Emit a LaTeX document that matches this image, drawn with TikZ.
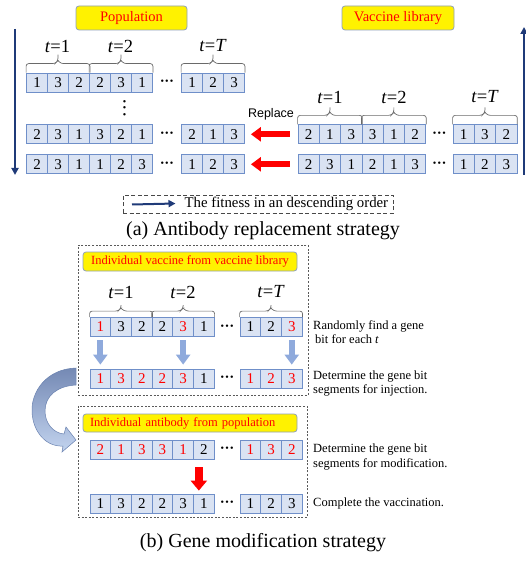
\documentclass[tikz,border=0pt]{standalone}
\usepackage{fontspec}
\setmainfont{Liberation Serif}
\newfontfamily\labelsans{Liberation Sans}
\usetikzlibrary{arrows.meta,calc}

\definecolor{cellfill}{HTML}{DAE3F3}
\definecolor{celledge}{HTML}{6F8FC9}
\definecolor{navyline}{HTML}{1F3A78}
\definecolor{hledge}{HTML}{8FA0B8}
\definecolor{lightarrow}{HTML}{8FAADC}
\definecolor{curvetop}{HTML}{7489B4}
\definecolor{curvebot}{HTML}{C3D4EF}
\definecolor{curveedge}{HTML}{6A82B0}
\definecolor{boxgray}{HTML}{5A5A5A}
\definecolor{bracegray}{HTML}{6A6A6A}

% one chromosome: six cells, a gap with dots, three more cells
% #1 name prefix, #2 left x, #3 centre y, #4 cell width, #5 start of last group, #6 digit/colour list
\newcommand{\generow}[6]{%
  \foreach \d/\c [count=\i] in {#6} {
    \pgfmathsetmacro{\cx}{#2 + ifthenelse(\i<7, (\i-0.5)*#4, #5+(\i-6.5)*#4)}
    \node[cell=#4, text=\c] (#1c\i) at (\cx,#3) {\d};
  }
  \pgfmathsetmacro{\dx}{#2 + (6*#4 + #5)/2}
  \node[gapdots] (#1dots) at (\dx,#3) {\textbullet\kern1.2pt\textbullet\kern1.2pt\textbullet};
}

% flat curly bracket over a time step: #1 left point, #2 right point,
% #3 shoulder height, #4 tip height
\newcommand{\tbracket}[4]{%
  \draw[bracketline] (#1) -- ($(#1)+(0,-#3)$) -- ($(#1)!0.5!(#2)+(-3,-#3)$)
    -- ($(#1)!0.5!(#2)+(0,-#3-3)$) -- ($(#1)!0.5!(#2)+(0,-#4)$);
  \draw[bracketline] (#2) -- ($(#2)+(0,-#3)$) -- ($(#1)!0.5!(#2)+(3,-#3)$)
    -- ($(#1)!0.5!(#2)+(0,-#3-3)$);
}

\begin{document}
\begin{tikzpicture}[x=1pt,y=-1pt,
  cell/.style={draw=celledge, fill=cellfill, line width=0.8pt,
    minimum width=#1, minimum height=19pt, inner sep=0pt,
    font=\fontsize{15}{15}\selectfont},
  cell/.default=21,
  gapdots/.style={inner sep=0pt, font=\fontsize{10}{10}\selectfont},
  bracketline/.style={draw=bracegray, line width=0.7pt, rounded corners=2.5pt},
  tlabel/.style={inner sep=0pt, font=\fontsize{18.5}{20}\selectfont},
  hlbox/.style={draw=hledge, fill=yellow, line width=0.8pt, rounded corners=3pt,
    text=red, inner sep=0pt},
  navyarrow/.style={draw=navyline, line width=2pt,
    -{Triangle[length=7pt,width=7pt]}},
  replarrow/.style={draw=red, line width=6pt,
    -{Triangle[length=10pt,width=14pt]}},
  bitarrow/.style={draw=lightarrow, line width=6pt,
    -{Triangle[length=10pt,width=14pt]}},
  modarrow/.style={draw=red, line width=8pt,
    -{Triangle[length=10pt,width=16pt]}},
  dashbox/.style={draw=boxgray, line width=0.8pt, dash pattern=on 2pt off 1.6pt,
    inner sep=0pt},
  note/.style={anchor=west, align=left, inner sep=0pt,
    font=\fontsize{12.5}{14.5}\selectfont},
  caption/.style={inner sep=0pt, font=\fontsize{20}{22}\selectfont}
]
\useasboundingbox (0,0) rectangle (526,561);

% ---------------- (a) antibody replacement ----------------
\node[hlbox, minimum width=111pt, minimum height=24pt,
  font=\fontsize{14.5}{15}\selectfont] (poplabel) at (131.5,18) {Population};
\node[hlbox, minimum width=112pt, minimum height=24pt,
  font=\fontsize{14.5}{15}\selectfont] (vaclabel) at (398,18) {Vaccine library};

% population (fitness decreasing downwards)
\generow{popA}{26.5}{82.5}{21}{155}{1/black,3/black,2/black,2/black,3/black,1/black,1/black,2/black,3/black}
\generow{popB}{26.5}{134.3}{21}{155}{2/black,3/black,1/black,3/black,2/black,1/black,2/black,1/black,3/black}
\generow{popC}{26.5}{164.3}{21}{155}{2/black,3/black,1/black,1/black,2/black,3/black,1/black,2/black,3/black}
\node[gapdots, rotate=90] (popvdots) at (125.5,108)
  {\textbullet\kern3pt\textbullet\kern3pt\textbullet};

\tbracket{popAc1.north west}{popAc3.north east}{9}{18}
\tbracket{popAc4.north west}{popAc6.north east}{9}{18}
\tbracket{popAc7.north west}{popAc9.north east}{9}{18}
\node[tlabel] (popt1) at (57.5,46) {\textit{t}=1};
\node[tlabel] (popt2) at (120.5,46) {\textit{t}=2};
\node[tlabel] (poptT) at (213,46) {\textit{t}=\textit{T}};

% vaccine library
\generow{vacA}{298}{134.3}{21.3}{155}{2/black,1/black,3/black,3/black,1/black,2/black,1/black,3/black,2/black}
\generow{vacB}{298}{164.3}{21.3}{155}{2/black,3/black,1/black,2/black,1/black,3/black,1/black,2/black,3/black}

\tbracket{vacAc1.north west}{vacAc3.north east}{9}{17}
\tbracket{vacAc4.north west}{vacAc6.north east}{9}{17}
\tbracket{vacAc7.north west}{vacAc9.north east}{9}{17}
\node[tlabel] (vact1) at (330,97) {\textit{t}=1};
\node[tlabel] (vact2) at (394,97) {\textit{t}=2};
\node[tlabel] (vactT) at (485,97) {\textit{t}=\textit{T}};

% replacement
\node[inner sep=0pt, font=\labelsans\fontsize{12.5}{13}\selectfont] (replace) at (271,114) {Replace};
\draw[replarrow, shorten <=8pt, shorten >=6pt] (vacAc1.west) -- (popBc9.east);
\draw[replarrow, shorten <=8pt, shorten >=6pt] (vacBc1.west) -- (popCc9.east);

% fitness direction arrows
\coordinate (popfitTop) at (15,29);
\coordinate (popfitBot) at (15,175);
\draw[navyarrow] (popfitTop) -- (popfitBot);
\coordinate (vacfitBot) at (524,175);
\coordinate (vacfitTop) at (524,27);
\draw[navyarrow] (vacfitBot) -- (vacfitTop);

% legend
\node[draw=boxgray!80!black, line width=0.8pt, dash pattern=on 4pt off 2.5pt,
  minimum width=270pt, minimum height=18pt, inner sep=0pt] (legend) at (258,204) {};
\node[inner sep=0pt, anchor=west, font=\fontsize{14.8}{16}\selectfont] (legendtext)
  at (184.5,204) {The fitness in an descending order};
\coordinate (legendtail) at (132,204.5);
\draw[navyarrow] (legendtail) -- ([xshift=-9pt,yshift=0.5pt]legendtext.west);

\node[caption] (capa) at (263,231) {(a) Antibody replacement strategy};

% ---------------- (b) gene modification ----------------
\node[dashbox, minimum width=230pt, minimum height=150pt] (injbox) at (193,320) {};
\node[dashbox, minimum width=229pt, minimum height=111pt] (modbox) at (192.5,461.5) {};

\node[hlbox, minimum width=214pt, minimum height=19pt,
  font=\fontsize{12.5}{13}\selectfont] (indvac) at (190,261.5)
  {Individual vaccine from vaccine library};
\node[hlbox, minimum width=214pt, minimum height=18pt, text width=200pt,
  inner xsep=7pt, align=left, font=\fontsize{12.5}{13}\selectfont] (indanti) at (190,423)
  {Individual antibody from population};

\generow{selA}{90}{327}{20.7}{150}{1/red,3/black,2/black,2/black,3/red,1/black,1/black,2/black,3/red}
\generow{injB}{90}{378.5}{20.7}{150}{1/red,3/red,2/red,2/red,3/red,1/black,1/red,2/red,3/red}
\generow{antC}{90}{449.5}{20.7}{150}{2/red,1/red,3/red,3/red,1/red,2/black,1/red,3/red,2/red}
\generow{newD}{90}{503.5}{20.7}{150}{1/black,3/black,2/black,2/black,3/black,1/black,1/black,2/black,3/black}

\tbracket{selAc1.north west}{selAc3.north east}{6}{12}
\tbracket{selAc4.north west}{selAc6.north east}{6}{12}
\tbracket{selAc7.north west}{selAc9.north east}{6}{12}
\node[tlabel] (selt1) at (121,292) {\textit{t}=1};
\node[tlabel] (selt2) at (183,292) {\textit{t}=2};
\node[tlabel] (seltT) at (271,292) {\textit{t}=\textit{T}};

\draw[bitarrow, shorten <=3.5pt, shorten >=4pt] (selAc1.south) -- (injBc1.north);
\draw[bitarrow, shorten <=3.5pt, shorten >=4pt] (selAc5.south) -- (injBc5.north);
\draw[bitarrow, shorten <=3.5pt, shorten >=4pt] (selAc9.south) -- (injBc9.north);

\draw[modarrow, shorten <=8pt, shorten >=3pt]
  ([xshift=-5pt]antCc6.south) -- ([xshift=-5pt]newDc6.north);

% curved transfer arrow from the vaccine segments to the antibody
\shadedraw[top color=curvetop, bottom color=curvebot, draw=curveedge, line width=0.5pt]
  (76,368) .. controls (46,369) and (31,392) .. (32,412)
  .. controls (33,432) and (46,447) .. (63,446)
  -- (62,452) -- (76,440) -- (66,427) -- (64,434)
  .. controls (53,433) and (45,423) .. (45,411)
  .. controls (45,396) and (57,386) .. (76,385) -- cycle;

% step descriptions
\node[note] (step1) at (313,332) {Randomly find a gene\\\hspace{2pt}bit for each \textit{t}};
\node[note] (step2) at (313,383.5) {Determine the gene bit\\segments for injection.};
\node[note] (step3) at (313,457) {Determine the gene bit\\segments for modification.};
\node[note] (step4) at (313,503) {Complete the vaccination.};

\node[caption] (capb) at (263,543) {(b) Gene modification strategy};
\end{tikzpicture}
\end{document}
